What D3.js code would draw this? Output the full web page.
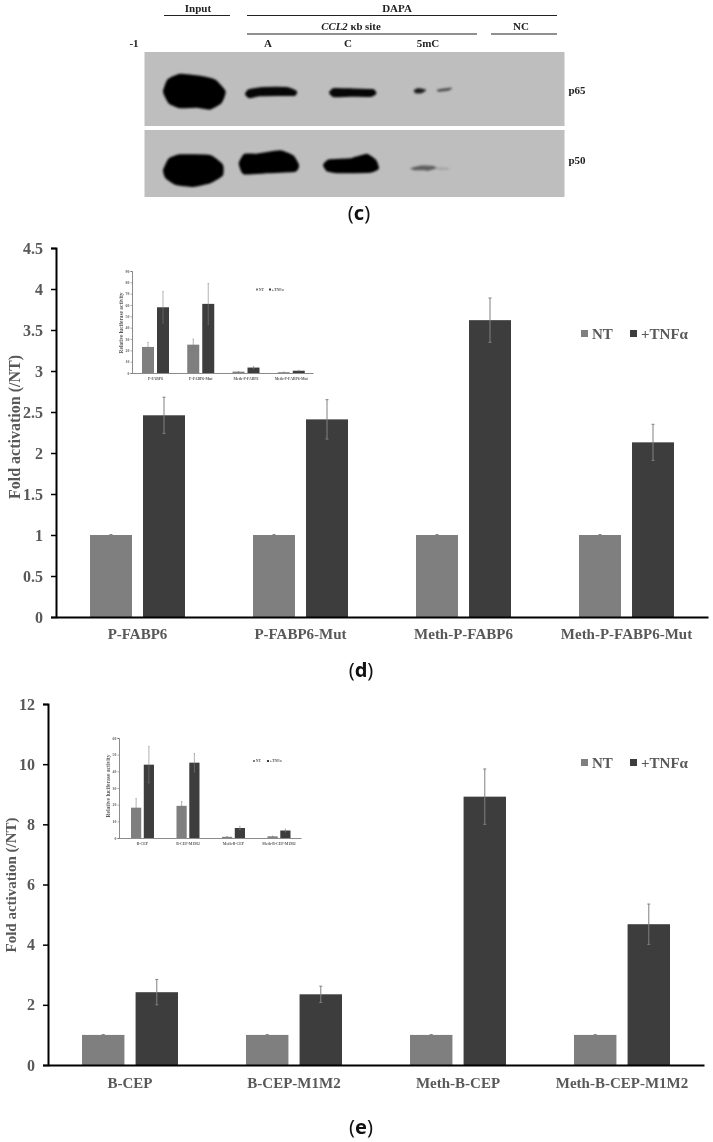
<!DOCTYPE html>
<html><head><meta charset="utf-8">
<script src="https://cdn.jsdelivr.net/npm/d3@7/dist/d3.min.js"></script>
<style>html,body{margin:0;padding:0;background:#fff}svg{display:block}text{font-family:"Liberation Serif",serif}</style>
</head><body><svg id="c" width="713" height="1142"></svg>
<script>
// ---- data ----
const series = ["NT", "+TNFα"];
const catsD = ["P-FABP6", "P-FABP6-Mut", "Meth-P-FABP6", "Meth-P-FABP6-Mut"];
const ntD = [1, 1, 1, 1];
const ntErrD = [0.005, 0.005, 0.005, 0.005];
const tnfD = [2.46, 2.41, 3.62, 2.13];
const tnfErrD = [0.22, 0.24, 0.27, 0.22];
const ticksD = [0, 0.5, 1, 1.5, 2, 2.5, 3, 3.5, 4, 4.5];
const ntInsetD = [23, 25, 1.2, 0.7];
const ntInsetErrD = [4, 5, 0.2, 0.2];
const tnfInsetD = [58, 61, 4.8, 2];
const tnfInsetErrD = [14, 18, 1, 0.4];
const ticksInsetD = [0, 10, 20, 30, 40, 50, 60, 70, 80, 90];

const catsE = ["B-CEP", "B-CEP-M1M2", "Meth-B-CEP", "Meth-B-CEP-M1M2"];
const ntE = [1, 1, 1, 1];
const ntErrE = [0.01, 0.01, 0.01, 0.01];
const tnfE = [2.42, 2.35, 8.92, 4.68];
const tnfErrE = [0.42, 0.27, 0.92, 0.67];
const ticksE = [0, 2, 4, 6, 8, 10, 12];
const ntInsetE = [18.2, 19.3, 0.7, 1];
const ntInsetErrE = [5.5, 2.6, 0.1, 0.2];
const tnfInsetE = [44, 45.2, 6, 4.5];
const tnfInsetErrE = [11, 5.5, 1, 0.9];
const ticksInsetE = [0, 10, 20, 30, 40, 50, 60];

const COL = ["#7f7f7f", "#3d3d3d"], TXT = "#595959";
const svg = d3.select("#c");
const defs = svg.append("defs");
[["b1",0.9],["b2",0.4],["b3",0.25],["b4",0.3]].forEach(([id,s]) =>
  defs.append("filter").attr("id",id).attr("x","-20%").attr("y","-20%").attr("width","140%").attr("height","140%")
    .append("feGaussianBlur").attr("stdDeviation",s));

function chart(o) {
  const g = svg.append("g");
  if (o.blur) g.attr("filter", "url(#" + o.blur + ")");
  const y = d3.scaleLinear().domain(o.dom).range(o.yr);
  const x0 = d3.scaleBand().domain(o.cats).range(o.xr);
  const x1 = d3.scaleBand().domain(series).range(o.gr).paddingInner(o.pi);
  const rows = [[o.nt, o.ntErr], [o.tnf, o.tnfErr]];
  rows.forEach(([vals, errs], si) => {
    const s = series[si];
    g.append("g").selectAll("rect").data(o.cats).join("rect")
      .attr("x", c => x0(c) + x1(s)).attr("width", x1.bandwidth())
      .attr("y", (c, i) => y(vals[i])).attr("height", (c, i) => y(0) - y(vals[i]))
      .attr("fill", COL[si]);
    const e = g.append("g").attr("stroke", "#808080").attr("stroke-width", o.ew).attr("fill", "none");
    const cx = c => x0(c) + x1(s) + x1.bandwidth() / 2;
    e.selectAll("path").data(o.cats).join("path").attr("d", (c, i) => {
      const a = y(vals[i] + errs[i]), b = y(vals[i] - errs[i]), t = o.cap;
      return `M${cx(c)-t},${a}H${cx(c)+t}M${cx(c)},${a}V${b}M${cx(c)-t},${b}H${cx(c)+t}`;
    });
  });
  // axes
  const ay = d3.axisLeft(y).tickValues(o.ticks).tickFormat(d => String(d)).tickSize(o.ts).tickPadding(o.tp);
  const gy = g.append("g").attr("transform", `translate(${o.xr[0]},0)`).call(ay);
  gy.select(".domain").attr("stroke", o.ac).attr("stroke-width", o.aw);
  gy.selectAll(".tick line").attr("stroke", o.ac).attr("stroke-width", o.aw * 0.75);
  gy.selectAll("text").attr("fill", TXT).attr("font-family", "Liberation Serif").attr("font-weight", "bold").attr("font-size", o.fs);
  const ax = d3.axisBottom(y.copy().domain([0,1]).range(o.xr)).tickValues([]).tickSize(0);
  const gx = g.append("g").attr("transform", `translate(0,${o.yr[0]})`).call(ax);
  gx.select(".domain").attr("stroke", o.ac).attr("stroke-width", o.aw);
  g.append("g").selectAll("text").data(o.cats).join("text")
    .attr("x", c => x0(c) + (o.gr[0] + o.gr[1]) / 2).attr("y", o.lby)
    .attr("text-anchor", "middle").attr("font-weight", "bold").attr("font-size", o.cfs).attr("fill", TXT).text(c => c);
  g.append("text").attr("transform", `translate(${o.ylx},${o.yly}) rotate(-90)`)
    .attr("text-anchor", "middle").attr("font-weight", "bold").attr("font-size", o.yfs).attr("fill", TXT).text(o.ylab);
  // legend
  series.forEach((s, i) => {
    g.append("rect").attr("x", o.lx[i]).attr("y", o.ly).attr("width", o.ls).attr("height", o.ls).attr("fill", COL[i]);
    g.append("text").attr("x", o.lx[i] + o.ls + o.lgap).attr("y", o.ly + o.ls + o.lb)
      .attr("font-weight", "bold").attr("font-size", o.lfs).attr("fill", TXT).text(s);
  });
}

const main = { ew: 1, cap: 1.5, ts: 5, tp: 8, ac: "#000", aw: 2, fs: 16, blur: "b3" };
const inset = { ew: 0.6, cap: 0.6, ts: 1.5, tp: 1.2, ac: "#595959", aw: 0.7, fs: 3.8, blur: "b2" };

chart({ ...main, cats: catsD, nt: ntD, ntErr: ntErrD, tnf: tnfD, tnfErr: tnfErrD, ticks: ticksD, dom: [0, 4.5],
  yr: [617, 248], xr: [56, 708], gr: [34, 129], pi: 0.208, lby: 639, cfs: 15, ylx: 20, yly: 427, yfs: 16, ylab: "Fold activation (/NT)",
  lx: [581, 630], ly: 330, ls: 7, lgap: 4, lb: 1.5, lfs: 15 });
chart({ ...inset, cats: catsD, nt: ntInsetD, ntErr: ntInsetErrD, tnf: tnfInsetD, tnfErr: tnfInsetErrD, ticks: ticksInsetD, dom: [0, 90],
  yr: [373, 271], xr: [132, 313], gr: [10, 37], pi: 0.2, lby: 380, cfs: 3.8, ylx: 123, yly: 323, yfs: 5.4, ylab: "Relative luciferase activity",
  lx: [256, 269], ly: 288.5, ls: 2, lgap: 0.8, lb: 0.4, lfs: 3.8 });

chart({ ...main, cats: catsE, nt: ntE, ntErr: ntErrE, tnf: tnfE, tnfErr: tnfErrE, ticks: ticksE, dom: [0, 12],
  yr: [1065, 704], xr: [48, 704], gr: [34, 130], pi: 0.208, lby: 1088, cfs: 15, ylx: 16, yly: 885, yfs: 15, ylab: "Fold activation (/NT)",
  lx: [581, 630], ly: 759, ls: 7, lgap: 4, lb: 1.5, lfs: 15 });
chart({ ...inset, cats: catsE, nt: ntInsetE, ntErr: ntInsetErrE, tnf: tnfInsetE, tnfErr: tnfInsetErrE, ticks: ticksInsetE, dom: [0, 60],
  yr: [838, 738], xr: [119, 301], gr: [12, 35], pi: 0.2, lby: 845, cfs: 3.8, ylx: 110, yly: 786, yfs: 5.6, ylab: "Relative luciferase activity",
  lx: [253, 267], ly: 760, ls: 2, lgap: 0.8, lb: 0.4, lfs: 3.8 });

// ---- blot panel (c) ----
const blot = svg.append("g");
const panels = [[52, 74], [130, 67]];
blot.selectAll(".p").data(panels).join("rect").attr("x", 144.5).attr("width", 420)
  .attr("y", d => d[0]).attr("height", d => d[1]).attr("fill", "#bebebe");
const bx = d3.scaleLinear().domain([0, 1500]).range([100, 600]);
const by = d3.scaleLinear().domain([0, 690]).range([0, 230]);
const outline = d3.line().x(d => bx(d[0])).y(d => by(d[1])).curve(d3.curveCardinalClosed.tension(0.55));
const bands = [
  [[[192,275],[205,240],[240,224],[300,230],[345,242],[374,275],[362,308],[328,326],[290,320],[240,322],[208,308]],1,2],
  [[[438,282],[448,270],[490,264],[560,264],[588,275],[582,285],[530,285],[480,286],[448,292]],.97,2],
  [[[690,278],[702,267],[750,268],[818,270],[826,280],[812,288],[750,287],[702,289]],.97,2],
  [[[942,271],[955,265],[978,270],[965,279],[946,279]],.85,0.5],
  [[[1012,270],[1030,267],[1056,264],[1045,271],[1015,274]],.7,0.5],
  [[[192,510],[208,478],[240,466],[330,468],[366,495],[366,525],[332,546],[280,558],[228,552],[198,532]],1,2],
  [[[419,490],[434,464],[470,464],[540,454],[578,468],[594,495],[586,512],[500,517],[432,520]],1,2],
  [[[672,495],[688,481],[750,478],[800,464],[826,482],[834,505],[812,515],[720,517],[683,512]],1,2],
  [[[930,505],[960,497],[1000,498],[1010,505],[985,512],[945,511]],.5,0],
  [[[1010,503],[1040,503],[1050,508],[1020,510]],.15,0]
];
blot.append("g").attr("filter", "url(#b1)").selectAll("path").data(bands).join("path")
  .attr("d", d => outline(d[0])).attr("fill", "#050505").attr("stroke", "#050505")
  .attr("stroke-width", d => d[2]).attr("stroke-linejoin", "round").attr("opacity", d => d[1]);
const rules = [[164,230,15.5],[247,557,15.5],[247,477,34],[491,557,34]];
blot.selectAll("line").data(rules).join("line").attr("x1", d => d[0]).attr("x2", d => d[1])
  .attr("y1", d => d[2]).attr("y2", d => d[2]).attr("stroke", "#222").attr("stroke-width", 1.1);
const heads = [["Input",198,12],["DAPA",397,12],["NC",521,30],["-1",134,47],["A",268,47],["C",348,47],["5mC",428,47],["p65",577,94],["p50",577,164]];
const tg = blot.append("g").attr("filter", "url(#b4)");
tg.selectAll(".h").data(heads).join("text").attr("x", d => d[1]).attr("y", d => d[2])
  .attr("text-anchor", "middle").attr("font-weight", "bold").attr("font-size", 11).attr("fill", "#222").text(d => d[0]);
const ccl = tg.append("text").attr("x", 351).attr("y", 30).attr("text-anchor", "middle")
  .attr("font-weight", "bold").attr("font-size", 10.8).attr("fill", "#222");
ccl.append("tspan").attr("font-style", "italic").text("CCL2");
ccl.append("tspan").text(" κb site");

// ---- captions ----
[["c",220,359],["d",676.5,361],["e",1133.5,361]].forEach(([l, yy, xx]) => {
  const t = svg.append("text").attr("x", xx).attr("y", yy).attr("text-anchor", "middle")
    .attr("font-size", 20).attr("fill", "#111").style("font-family", "Noto Sans");
  t.append("tspan").text("(");
  t.append("tspan").attr("font-weight", "bold").text(l);
  t.append("tspan").text(")");
});
</script></body></html>
